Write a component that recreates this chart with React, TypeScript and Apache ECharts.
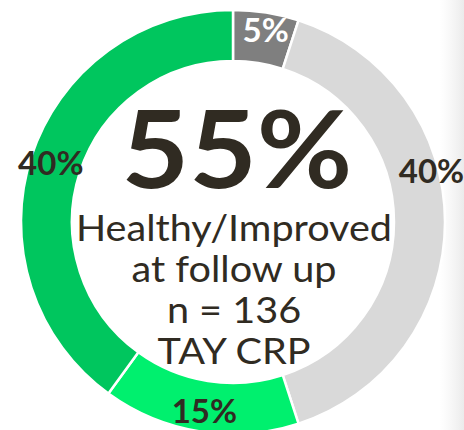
import React, { useEffect, useRef } from "react";
import * as echarts from "echarts";

const categories = ["Worse", "Unchanged", "Improved", "Healthy"];
const values = [5, 40, 15, 40];
const colors = ["#7f7f7f", "#d9d9d9", "#00f06e", "#00c65e"];
const labelColors = ["#ffffff", "#302b22", "#302b22", "#302b22"];
const headline = "55%";
const subtitleLines = ["Healthy/Improved", "at follow up", "n = 136", "TAY CRP"];

const labelShift: Record<number, [number, number]> = {
  0: [3, -6],
  1: [9, -52],
  2: [1, 1],
  3: [-2, -1],
};

export default function App() {
  const ref = useRef<HTMLDivElement>(null);
  useEffect(() => {
    if (!ref.current) return;
    const chart = echarts.init(ref.current, undefined, { renderer: "svg" });
    const font = "Lato, 'Noto Sans', sans-serif";
    chart.setOption({
      animation: false,
      backgroundColor: "#ffffff",
      graphic: [
        {
          type: "rect",
          left: 440,
          top: 0,
          z: -10,
          shape: { width: 24, height: 430 },
          style: {
            fill: new echarts.graphic.LinearGradient(0, 0, 1, 0, [
              { offset: 0, color: "rgba(240,240,240,0)" },
              { offset: 1, color: "rgba(235,235,235,1)" },
            ]),
          },
        },
        {
          type: "text",
          x: 237,
          y: 93,
          scaleX: 1.09,
          style: {
            text: headline,
            fontFamily: font,
            fontWeight: "bold",
            fontSize: 107,
            fill: "#302b22",
            textAlign: "center",
            textVerticalAlign: "top",
          },
        },
        ...subtitleLines.map((t, i) => ({
          type: "text",
          x: 234,
          y: 209 + i * 41,
          scaleX: 1.1,
          style: {
            text: t,
            fontFamily: font,
            fontSize: 36,
            fill: "#302b22",
            textAlign: "center",
            textVerticalAlign: "top",
          },
        })),
      ],
      series: [
        {
          type: "pie",
          center: [233, 222],
          radius: [161, 212],
          startAngle: 90,
          clockwise: true,
          silent: true,
          itemStyle: { borderColor: "#ffffff", borderWidth: 2.5 },
          label: {
            show: true,
            position: "inside",
            formatter: "{c}%",
            fontFamily: font,
            fontWeight: "bold",
            fontSize: 33,
          },
          labelLayout: (p: any) => {
            const s = labelShift[p.dataIndex] || [0, 0];
            return { dx: s[0], dy: s[1] };
          },
          labelLine: { show: false },
          data: categories.map((name, i) => ({
            name,
            value: values[i],
            itemStyle: { color: colors[i] },
            label: { color: labelColors[i] },
          })),
        },
      ],
    });
    return () => chart.dispose();
  }, []);
  return (
    <div
      ref={ref}
      style={{ position: "fixed", left: 0, top: 0, width: 464, height: 430 }}
    />
  );
}
